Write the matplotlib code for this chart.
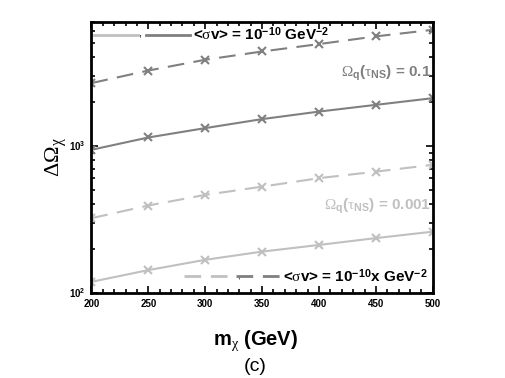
import matplotlib
matplotlib.use("Agg")
import matplotlib.pyplot as plt
from matplotlib.lines import Line2D
from matplotlib.legend_handler import HandlerTuple

plt.rcParams['font.family'] = ['Liberation Sans', 'DejaVu Sans']
plt.rcParams['mathtext.fontset'] = 'custom'
plt.rcParams['mathtext.rm'] = 'Liberation Serif'
plt.rcParams['mathtext.it'] = 'Liberation Serif:italic'
plt.rcParams['mathtext.bf'] = 'Liberation Sans:bold'

# data
m_chi = [200, 250, 300, 350, 400, 450, 500]
dark_dashed = [2670, 3250, 3850, 4380, 4920, 5550, 6150]
dark_solid = [940, 1140, 1320, 1520, 1710, 1900, 2110]
light_dashed = [322, 393, 464, 528, 603, 668, 743]
light_solid = [119, 143, 168, 191, 212, 236, 261]

x_ticks = [200, 250, 300, 350, 400, 450, 500]
y_ticks = [100, 1000]
y_ticklabels = [r'10$^{\mathbf{2}}$', r'10$^{\mathbf{3}}$']

dark = '#808080'
light = '#c0c0c0'
dash = (8, 4.5)

fig = plt.figure(figsize=(5.05, 3.78), dpi=100)
ax = fig.add_axes([0.181, 0.225, 0.676, 0.718])

ax.plot(m_chi, light_solid, color=light, lw=1.5, marker='x', ms=6, mew=1.5)
ax.plot(m_chi, light_dashed, color=light, lw=1.5, ls='--', dashes=dash,
        marker='x', ms=6, mew=1.5)
ax.plot(m_chi, dark_solid, color=dark, lw=1.5, marker='x', ms=6, mew=1.5)
ax.plot(m_chi, dark_dashed, color=dark, lw=1.5, ls='--', dashes=dash,
        marker='x', ms=6, mew=1.5)

# legend samples without markers
h_ls = Line2D([], [], color=light, lw=2)
h_ds = Line2D([], [], color=dark, lw=2)
h_ld = Line2D([], [], color=light, lw=2, ls='--', dashes=(6, 3.5))
h_dd = Line2D([], [], color=dark, lw=2, ls='--', dashes=(6, 3.5))

ax.set_yscale('log')
ax.set_xlim(200, 500)
ax.set_ylim(100, 7000)
ax.set_xticks(x_ticks)
ax.set_xticks(range(200, 501, 10), minor=True)
ax.set_yticks(y_ticks, y_ticklabels)
for lab in ax.get_xticklabels() + ax.get_yticklabels():
    lab.set_fontweight('bold')
    lab.set_fontsize(7)

ax.tick_params(which='both', direction='in', top=True, right=True, width=1.2)
ax.tick_params(which='major', length=5, pad=4)
ax.tick_params(which='minor', length=3)
ax.tick_params(axis='y', which='minor', labelleft=False)
for s in ax.spines.values():
    s.set_linewidth(2)

ax.set_xlabel(r'm$_{\mathrm{\chi}}$ (GeV)', fontsize=14.5, fontweight='bold', labelpad=14)
ax.xaxis.set_label_coords(0.48, -0.13)
ax.set_ylabel(r'$\mathrm{\Delta\Omega}_{\mathrm{\chi}}$', fontsize=16, labelpad=0)
fig.text(0.505, 0.03, '(c)', fontsize=14, ha='center', va='center')

ax.text(0.995, 0.81, r'$\mathrm{\Omega}_\mathbf{q}$($\mathrm{\tau}_\mathbf{NS}$) = 0.1',
        transform=ax.transAxes, ha='right', va='center', color=dark,
        fontsize=11, fontweight='bold')
ax.text(0.995, 0.32, r'$\mathrm{\Omega}_\mathbf{q}$($\mathrm{\tau}_\mathbf{NS}$) = 0.001',
        transform=ax.transAxes, ha='right', va='center', color=light,
        fontsize=11, fontweight='bold')

leg1 = ax.legend([(h_ls, h_ds)], [r'<$\mathrm{\sigma}$v> = 10$^{\mathbf{-10}}$ GeV$^{\mathbf{-2}}$'],
                 handler_map={tuple: HandlerTuple(ndivide=None, pad=0.5)},
                 loc='upper left', bbox_to_anchor=(0.0, 0.995), frameon=False,
                 borderpad=0.1, borderaxespad=0.05, handlelength=6.3, handletextpad=0.2,
                 prop={'size': 11, 'weight': 'bold'})
ax.add_artist(leg1)
ax.legend([(h_ld, h_dd)], [r'<$\mathrm{\sigma}$v> = 10$^{\mathbf{-10}}$x GeV$^{\mathbf{-2}}$'],
          handler_map={tuple: HandlerTuple(ndivide=None, pad=0.5)},
          loc='lower right', bbox_to_anchor=(1.01, 0.0), frameon=False,
          borderpad=0.1, borderaxespad=0.45, handlelength=6.3, handletextpad=0.2,
          prop={'size': 11, 'weight': 'bold'})
ax.text(0.14, 0.955, ',', transform=ax.transAxes, fontsize=8, ha='center', va='center')
ax.text(0.43, 0.065, ',', transform=ax.transAxes, fontsize=8, ha='center', va='center')

fig.savefig('out.png', dpi=100)
